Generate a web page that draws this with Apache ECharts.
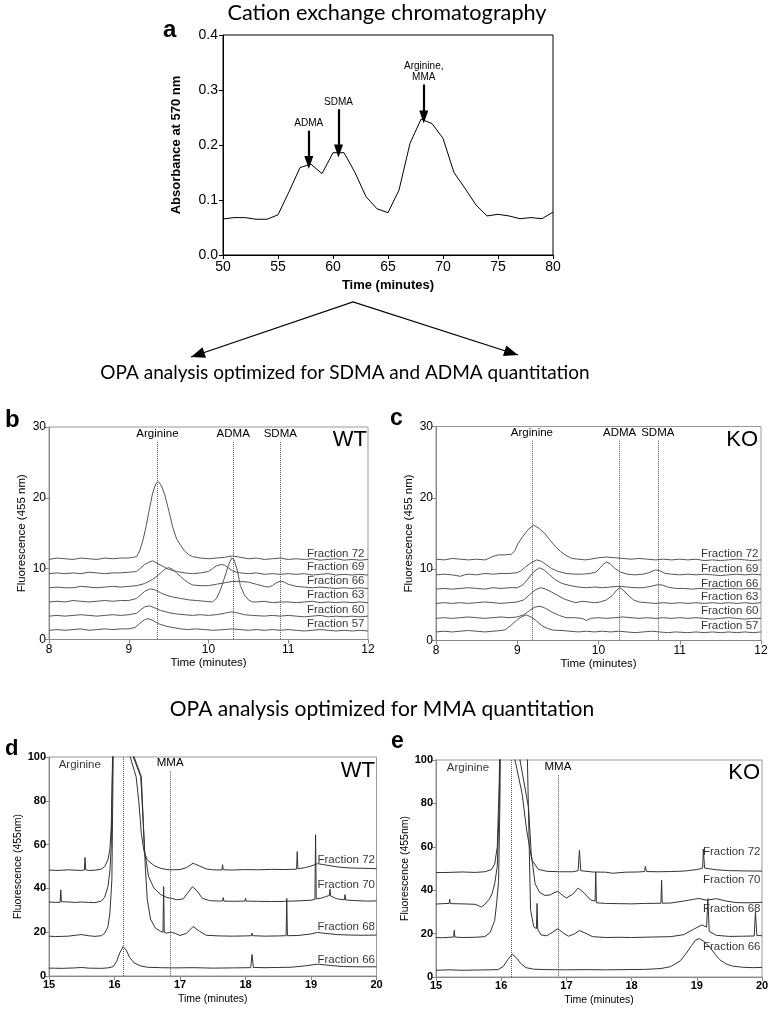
<!DOCTYPE html>
<html><head><meta charset="utf-8">
<script src="https://cdn.jsdelivr.net/npm/echarts@6/dist/echarts.min.js"></script>
<style>html,body{margin:0;padding:0;background:#fff}#chart{width:772px;height:1011px}</style>
</head><body><div id="chart"></div>
<script>
// ---------------- Panel a: cation exchange chromatography ----------------
const aTime = [50,51,52,53,54,55,56,57,58,59,60,61,62,63,64,65,66,67,68,69,70,71,72,73,74,75,76,77,78,79,80];
const aAbs  = [0.0655,0.068,0.068,0.065,0.065,0.073,0.115,0.159,0.165,0.148,0.186,0.186,0.15,0.106,0.084,0.077,0.118,0.203,0.247,0.239,0.212,0.15,0.121,0.091,0.071,0.074,0.071,0.066,0.068,0.066,0.078];
const aArrowNames = ['ADMA','SDMA','Arginine,\nMMA'];
const aArrowTime  = [57.8, 60.5, 68.25];
const aArrowFrom  = [0.226, 0.265, 0.31];
const aArrowTo    = [0.168, 0.189, 0.251];

// ---------------- Panel b: WT, SDMA/ADMA method ----------------
const bF72 = [[8.0,11.3],[8.1,11.5],[8.2,11.4],[8.3,11.3],[8.4,11.5],[8.5,11.4],[8.6,11.3],[8.7,11.5],[8.8,11.4],[8.9,11.5],[9.0,11.5],[9.05,11.6],[9.1,11.7],[9.14,12.6],[9.18,14.1],[9.22,16.1],[9.25,17.9],[9.3,20.7],[9.34,22.0],[9.37,22.3],[9.41,21.7],[9.45,20.5],[9.5,18.3],[9.55,15.9],[9.6,14.2],[9.65,13.3],[9.7,12.5],[9.75,12.0],[9.8,11.7],[9.9,11.5],[10.0,11.4],[10.1,11.5],[10.2,11.6],[10.3,11.8],[10.4,11.6],[10.5,11.4],[10.6,11.5],[10.7,11.3],[10.8,11.4],[10.9,11.5],[11.0,11.3],[11.1,11.4],[11.2,11.3],[11.3,11.4],[11.4,11.2],[11.5,11.3],[11.6,11.4],[11.7,11.2],[11.8,11.3],[11.9,11.2],[12.0,11.3]];
const bF69 = [[8.0,9.3],[8.1,9.4],[8.2,9.3],[8.3,9.4],[8.4,9.3],[8.5,9.5],[8.6,9.4],[8.7,9.3],[8.8,9.4],[8.9,9.4],[9.0,9.5],[9.1,9.6],[9.15,10.1],[9.2,10.6],[9.25,10.9],[9.3,11.1],[9.35,10.8],[9.4,10.5],[9.45,10.2],[9.5,9.9],[9.6,9.6],[9.7,9.4],[9.8,9.3],[9.9,9.4],[10.0,9.6],[10.05,10.0],[10.1,10.4],[10.16,10.6],[10.2,10.5],[10.25,10.1],[10.3,9.7],[10.35,9.5],[10.4,9.4],[10.5,9.3],[10.6,9.4],[10.7,9.2],[10.8,9.3],[10.9,9.2],[11.0,9.3],[11.1,9.2],[11.2,9.3],[11.3,9.1],[11.4,9.2],[11.5,9.3],[11.6,9.1],[11.7,9.2],[11.8,9.1],[11.9,9.2],[12.0,9.1]];
const bF66 = [[8.0,7.3],[8.1,7.4],[8.2,7.3],[8.3,7.3],[8.4,7.5],[8.5,7.4],[8.6,7.3],[8.7,7.4],[8.8,7.5],[8.9,7.4],[9.0,7.5],[9.1,7.6],[9.2,7.9],[9.3,8.5],[9.35,8.9],[9.4,9.4],[9.45,9.9],[9.5,10.15],[9.55,9.9],[9.6,9.4],[9.65,8.9],[9.7,8.4],[9.75,8.0],[9.8,7.7],[9.9,7.6],[10.0,7.6],[10.1,7.8],[10.2,8.0],[10.3,8.2],[10.4,8.2],[10.5,8.1],[10.6,7.8],[10.7,7.5],[10.75,7.4],[10.8,7.6],[10.85,8.0],[10.9,8.25],[10.95,8.1],[11.0,7.8],[11.1,7.5],[11.2,7.4],[11.3,7.3],[11.4,7.4],[11.5,7.3],[11.6,7.2],[11.7,7.3],[11.8,7.2],[11.9,7.3],[12.0,7.2]];
const bF63 = [[8.0,5.3],[8.1,5.4],[8.2,5.3],[8.3,5.5],[8.4,5.4],[8.5,5.3],[8.6,5.4],[8.7,5.5],[8.8,5.4],[8.9,5.5],[9.0,5.5],[9.1,5.8],[9.15,6.3],[9.2,6.8],[9.27,7.15],[9.33,7.0],[9.4,6.6],[9.47,6.25],[9.55,6.0],[9.65,5.8],[9.75,5.6],[9.85,5.5],[9.95,5.4],[10.05,5.3],[10.1,5.8],[10.15,7.0],[10.2,8.7],[10.25,10.5],[10.29,11.5],[10.32,11.3],[10.36,9.8],[10.4,7.6],[10.45,6.3],[10.5,5.6],[10.55,5.3],[10.6,5.3],[10.7,5.4],[10.8,5.2],[10.9,5.3],[11.0,5.3],[11.1,5.2],[11.2,5.3],[11.3,5.4],[11.4,5.2],[11.5,5.3],[11.6,5.2],[11.7,5.3],[11.8,5.2],[11.9,5.3],[12.0,5.2]];
const bF60 = [[8.0,3.3],[8.1,3.4],[8.2,3.3],[8.3,3.4],[8.4,3.5],[8.5,3.4],[8.6,3.3],[8.7,3.4],[8.8,3.5],[8.9,3.4],[9.0,3.5],[9.1,3.7],[9.15,4.2],[9.2,4.6],[9.26,4.75],[9.32,4.5],[9.4,4.1],[9.5,3.8],[9.6,3.6],[9.7,3.5],[9.8,3.4],[9.9,3.5],[10.0,3.4],[10.1,3.5],[10.2,3.7],[10.28,3.9],[10.35,3.8],[10.45,3.5],[10.55,3.4],[10.7,3.3],[10.8,3.4],[10.9,3.3],[11.0,3.4],[11.1,3.3],[11.2,3.2],[11.3,3.3],[11.4,3.4],[11.5,3.2],[11.6,3.3],[11.7,3.2],[11.8,3.3],[11.9,3.2],[12.0,3.3]];
const bF57 = [[8.0,1.3],[8.1,1.4],[8.2,1.3],[8.3,1.4],[8.4,1.5],[8.5,1.3],[8.6,1.4],[8.7,1.5],[8.8,1.4],[8.9,1.5],[9.0,1.5],[9.08,1.7],[9.14,2.3],[9.2,2.8],[9.24,2.95],[9.3,2.7],[9.38,2.2],[9.46,1.9],[9.55,1.7],[9.65,1.5],[9.75,1.4],[9.85,1.5],[9.95,1.4],[10.05,1.3],[10.2,1.4],[10.3,1.5],[10.4,1.4],[10.5,1.3],[10.6,1.4],[10.7,1.3],[10.8,1.4],[10.9,1.3],[11.0,1.4],[11.1,1.3],[11.2,1.2],[11.3,1.3],[11.4,1.4],[11.5,1.3],[11.6,1.2],[11.7,1.3],[11.8,1.2],[11.9,1.3],[12.0,1.2]];
const bcFractionNames = ['Fraction 72','Fraction 69','Fraction 66','Fraction 63','Fraction 60','Fraction 57'];
const bLabelY = [12.1,10.3,8.25,6.26,4.2,2.2];
const bPeakNames = ['Arginine','ADMA','SDMA'];
const bPeakTimes = [9.36,10.31,10.9];

// ---------------- Panel c: KO, SDMA/ADMA method ----------------
const cF72 = [[8.0,11.4],[8.1,11.3],[8.2,11.5],[8.3,11.4],[8.4,11.3],[8.5,11.4],[8.6,11.3],[8.65,11.5],[8.7,11.8],[8.77,12.0],[8.85,12.0],[8.93,12.1],[8.97,12.6],[9.01,13.6],[9.07,14.6],[9.13,15.5],[9.2,16.2],[9.27,15.7],[9.34,15.0],[9.4,14.1],[9.47,13.2],[9.53,12.5],[9.59,12.0],[9.67,11.5],[9.75,11.4],[9.84,11.3],[9.9,11.4],[10.0,11.6],[10.1,11.7],[10.2,11.6],[10.3,11.5],[10.4,11.4],[10.5,11.5],[10.6,11.4],[10.7,11.3],[10.8,11.4],[10.9,11.3],[11.0,11.4],[11.1,11.3],[11.2,11.4],[11.3,11.2],[11.4,11.3],[11.5,11.2],[11.6,11.3],[11.7,11.4],[11.8,11.3],[11.9,11.2],[12.0,11.3]];
const cF69 = [[8.0,9.2],[8.1,9.3],[8.2,9.2],[8.3,9.0],[8.35,9.2],[8.4,9.3],[8.5,9.2],[8.6,9.4],[8.7,9.3],[8.8,9.4],[8.9,9.4],[9.0,9.5],[9.05,9.8],[9.1,10.3],[9.17,10.9],[9.24,11.3],[9.3,11.1],[9.36,10.6],[9.42,10.1],[9.5,9.7],[9.6,9.4],[9.7,9.3],[9.8,9.3],[9.9,9.4],[9.97,9.6],[10.02,10.2],[10.06,10.7],[10.1,11.0],[10.15,10.7],[10.2,10.1],[10.27,9.6],[10.35,9.3],[10.45,9.2],[10.55,9.3],[10.62,9.5],[10.7,9.9],[10.75,9.8],[10.82,9.4],[10.9,9.3],[11.0,9.2],[11.1,9.3],[11.2,9.2],[11.3,9.3],[11.4,9.2],[11.5,9.1],[11.6,9.2],[11.7,9.3],[11.8,9.2],[11.9,9.3],[12.0,9.2]];
const cF66 = [[8.0,7.2],[8.1,7.3],[8.2,7.2],[8.3,7.3],[8.4,7.4],[8.5,7.3],[8.6,7.2],[8.7,7.4],[8.8,7.3],[8.9,7.4],[9.0,7.4],[9.07,7.8],[9.13,8.6],[9.2,9.6],[9.27,10.2],[9.33,9.9],[9.4,9.2],[9.47,8.5],[9.55,8.0],[9.65,7.7],[9.75,7.5],[9.85,7.4],[9.95,7.5],[10.05,7.4],[10.15,7.5],[10.25,7.6],[10.35,7.5],[10.45,7.4],[10.55,7.4],[10.65,7.6],[10.72,7.8],[10.78,7.8],[10.85,7.5],[10.95,7.3],[11.05,7.3],[11.15,7.2],[11.25,7.3],[11.35,7.2],[11.45,7.3],[11.55,7.2],[11.65,7.3],[11.75,7.2],[11.85,7.3],[12.0,7.2]];
const cF63 = [[8.0,5.2],[8.1,5.3],[8.2,5.2],[8.3,5.3],[8.4,5.2],[8.5,5.3],[8.6,5.4],[8.7,5.3],[8.8,5.2],[8.9,5.3],[9.0,5.4],[9.08,5.7],[9.15,6.4],[9.22,7.1],[9.29,7.4],[9.35,7.2],[9.42,6.8],[9.5,6.3],[9.58,5.8],[9.66,5.5],[9.72,5.3],[9.8,5.5],[9.88,5.4],[9.95,5.3],[10.02,5.4],[10.1,5.7],[10.17,6.3],[10.22,7.0],[10.26,7.4],[10.3,7.1],[10.36,6.4],[10.43,5.7],[10.5,5.4],[10.6,5.3],[10.7,5.2],[10.8,5.3],[10.9,5.2],[11.0,5.3],[11.1,5.2],[11.2,5.3],[11.3,5.2],[11.4,5.3],[11.5,5.2],[11.6,5.3],[11.7,5.2],[11.8,5.3],[11.9,5.2],[12.0,5.3]];
const cF60 = [[8.0,3.1],[8.1,3.2],[8.2,3.1],[8.3,3.2],[8.4,3.3],[8.5,3.2],[8.6,3.1],[8.7,3.2],[8.8,3.3],[8.9,3.2],[9.0,3.3],[9.08,3.6],[9.15,4.2],[9.22,4.7],[9.28,4.8],[9.35,4.5],[9.44,3.9],[9.52,3.5],[9.6,3.2],[9.7,3.2],[9.8,3.1],[9.85,2.8],[9.9,3.1],[10.0,3.2],[10.1,3.1],[10.2,3.2],[10.3,3.3],[10.4,3.2],[10.5,3.1],[10.6,3.2],[10.7,3.1],[10.8,3.2],[10.9,3.1],[11.0,3.2],[11.1,3.1],[11.2,3.2],[11.3,3.1],[11.4,3.0],[11.5,3.1],[11.6,3.2],[11.7,3.1],[11.8,3.0],[11.9,3.1],[12.0,3.1]];
const cF57 = [[8.0,1.2],[8.1,1.3],[8.2,1.2],[8.3,1.3],[8.4,1.4],[8.5,1.3],[8.6,1.2],[8.7,1.3],[8.8,1.4],[8.85,1.5],[8.92,2.1],[8.99,2.8],[9.05,3.3],[9.11,3.6],[9.17,3.3],[9.23,2.8],[9.3,2.1],[9.37,1.7],[9.44,1.45],[9.55,1.4],[9.65,1.3],[9.75,1.2],[9.85,1.3],[9.95,1.2],[10.05,1.3],[10.15,1.2],[10.25,1.3],[10.35,1.2],[10.45,1.1],[10.55,1.2],[10.65,1.3],[10.75,1.2],[10.85,1.1],[10.95,1.2],[11.1,1.1],[11.2,1.2],[11.3,1.1],[11.4,1.2],[11.5,1.1],[11.6,1.2],[11.7,1.1],[11.8,1.2],[11.9,1.1],[12.0,1.2]];
const cLabelY = [12.1,10.1,8.0,6.1,4.15,2.0];
const cPeakTimes = [9.18,10.26,10.73];

// ---------------- Panel d: WT, MMA method ----------------
const dF72 = [[15.0,48.4],[15.1,48.2],[15.2,48.3],[15.3,48.5],[15.4,48.3],[15.5,48.2],[15.54,48.4],[15.55,54.1],[15.56,48.6],[15.6,48.2],[15.7,48.3],[15.8,48.8],[15.85,50],[15.9,53],[15.93,58],[15.95,68],[15.97,95],[15.99,140],[16.1,170],[16.2,104],[16.33,91],[16.37,80],[16.41,65],[16.45,57],[16.5,53],[16.6,50.5],[16.7,49.2],[16.8,48.6],[16.9,48.5],[17.0,48.6],[17.1,49.5],[17.2,51.5],[17.3,50.2],[17.4,48.9],[17.5,48.5],[17.64,48.4],[17.65,50.8],[17.66,48.5],[17.8,48.4],[18.0,48.6],[18.2,48.5],[18.4,48.7],[18.6,48.6],[18.78,48.8],[18.79,56.8],[18.8,49],[18.9,49.4],[19.0,50.2],[19.1,51.3],[19.2,50.8],[19.4,49.8],[19.6,49.3],[19.8,49.2],[20.0,49.0]];
const dF70 = [[15.0,33.8],[15.1,33.6],[15.17,33.7],[15.18,39.3],[15.19,33.9],[15.3,33.8],[15.4,33.6],[15.5,33.8],[15.6,33.6],[15.7,33.5],[15.8,34.2],[15.85,36],[15.9,40.8],[15.93,48],[15.95,59],[15.97,100],[16.0,160],[16.1,180],[16.25,103],[16.4,91],[16.43,75],[16.46,57],[16.52,45.4],[16.6,40.3],[16.7,37.3],[16.8,35.8],[16.87,35.5],[16.95,34.8],[17.05,35.2],[17.12,38],[17.19,40.8],[17.26,38.8],[17.34,35.5],[17.45,34.4],[17.6,34.2],[17.65,34.3],[17.66,35.8],[17.67,34.2],[17.8,34.1],[17.99,34.2],[18.0,35.5],[18.01,34.2],[18.2,34.1],[18.4,34.0],[18.6,34.1],[18.8,34.3],[19.0,34.6],[19.06,35.0],[19.07,64.5],[19.08,35.2],[19.15,35.5],[19.22,36.2],[19.28,36.8],[19.29,39.6],[19.3,36.5],[19.4,35.2],[19.51,34.8],[19.52,37.2],[19.53,34.7],[19.7,34.4],[19.85,34.2],[20.0,34.3]];
const dF68 = [[15.0,18.2],[15.1,18.0],[15.2,18.1],[15.3,18.2],[15.4,18.6],[15.5,18.9],[15.6,18.4],[15.7,18.1],[15.8,18.4],[15.85,19.5],[15.9,22.5],[15.93,28.8],[15.96,44],[15.98,100],[16.0,160],[16.1,185],[16.25,104],[16.41,91],[16.44,70],[16.47,50],[16.5,35],[16.55,26],[16.62,22],[16.7,20.4],[16.74,20.0],[16.75,40.8],[16.76,19.9],[16.8,19.6],[16.86,20.1],[16.93,19.4],[17.0,18.5],[17.1,19.5],[17.2,22.6],[17.3,20.4],[17.4,18.6],[17.6,18.3],[17.8,18.2],[18.0,18.3],[18.09,18.4],[18.1,19.6],[18.11,18.4],[18.3,18.2],[18.5,18.3],[18.62,18.4],[18.63,35.4],[18.64,18.4],[18.8,18.5],[19.0,19.2],[19.1,19.9],[19.2,19.5],[19.4,18.9],[19.6,18.7],[19.8,18.6],[20.0,18.7]];
const dF66 = [[15.0,3.6],[15.2,3.5],[15.4,3.7],[15.5,3.9],[15.6,3.6],[15.8,3.5],[15.9,3.7],[15.98,4.3],[16.03,6.5],[16.08,10.5],[16.13,13.4],[16.18,11.8],[16.23,8.5],[16.3,6.0],[16.4,4.6],[16.5,4.0],[16.7,3.8],[16.9,3.7],[17.2,3.8],[17.5,3.6],[17.8,3.7],[18.08,3.8],[18.1,9.8],[18.12,3.9],[18.3,3.8],[18.5,3.9],[18.7,4.0],[18.9,4.6],[19.1,5.4],[19.3,4.8],[19.5,4.3],[19.7,4.2],[20.0,4.2]];
const deFractionNames = ['Fraction 72','Fraction 70','Fraction 68','Fraction 66'];
const dLabelY = [53, 41.6, 22.5, 7.3];
const dArgTime = 16.13, dMmaTime = 16.85;

// ---------------- Panel e: KO, MMA method ----------------
const eF72 = [[15.0,48.1],[15.2,48.2],[15.4,48.4],[15.6,48.2],[15.75,48.5],[15.85,49.5],[15.9,52],[15.94,60],[15.97,90],[16.0,150],[16.1,160],[16.19,103],[16.32,84.6],[16.39,67.7],[16.47,53.9],[16.57,49.6],[16.7,48.7],[16.9,48.5],[17.1,48.5],[17.18,49],[17.2,58.5],[17.22,49],[17.4,48.4],[17.6,48.3],[17.71,47.8],[17.72,46.9],[17.74,48.2],[17.9,48.3],[18.1,48.4],[18.2,48.6],[18.21,51],[18.23,48.6],[18.4,48.5],[18.6,48.6],[18.8,48.8],[19.0,49.5],[19.09,50.2],[19.1,59],[19.12,50.2],[19.3,49.4],[19.5,49],[19.7,48.9],[20.0,48.8]];
const eF70 = [[15.0,33.6],[15.1,33.8],[15.2,33.9],[15.21,35.8],[15.22,33.8],[15.4,33.7],[15.6,33.5],[15.7,32.3],[15.75,33.5],[15.82,36],[15.86,38.4],[15.9,43],[15.94,51],[15.97,80],[16.0,150],[16.1,170],[16.27,103],[16.42,78],[16.46,57],[16.52,43],[16.59,39],[16.67,37.6],[16.75,37.8],[16.81,38.8],[16.87,39.5],[16.94,37.6],[17.0,36.4],[17.1,38.2],[17.18,41],[17.27,38.8],[17.37,35.5],[17.44,35],[17.45,48.4],[17.46,34.2],[17.6,33.9],[17.8,33.8],[18.0,33.7],[18.2,33.9],[18.45,34.0],[18.46,44.6],[18.47,34.0],[18.6,34.1],[18.8,35.0],[18.95,35.8],[19.03,36.2],[19.15,35.4],[19.3,36.1],[19.45,35.0],[19.6,34.3],[19.8,34.2],[20.0,34.4]];
const eF68 = [[15.0,18.2],[15.1,18.1],[15.2,18.3],[15.27,18.4],[15.28,21.5],[15.29,18.4],[15.4,18.2],[15.6,18.3],[15.75,18.6],[15.83,20.5],[15.9,26],[15.93,34],[15.96,44],[15.98,80],[16.0,150],[16.2,190],[16.4,103],[16.45,31],[16.5,23.1],[16.54,22.3],[16.55,33.9],[16.56,22],[16.61,19.4],[16.7,19.0],[16.78,20.5],[16.87,22.3],[16.95,20.3],[17.03,18.8],[17.12,19.8],[17.2,21.4],[17.3,20.1],[17.4,18.6],[17.6,18.2],[17.8,18.3],[18.0,18.2],[18.3,18.4],[18.6,18.6],[18.8,19.5],[18.95,22],[19.08,24],[19.15,23],[19.16,22.8],[19.17,36.1],[19.19,21],[19.3,19.2],[19.5,18.7],[19.7,18.8],[19.88,18.9],[19.9,30],[19.92,19.2],[20.0,19.0]];
const eF66 = [[15.0,3.1],[15.2,3.3],[15.4,3.1],[15.6,3.2],[15.8,3.3],[15.95,3.4],[16.03,4.8],[16.1,8.0],[16.17,10.5],[16.24,8.6],[16.3,6.2],[16.38,4.3],[16.5,3.6],[16.7,3.4],[17.0,3.3],[17.3,3.4],[17.6,3.3],[17.9,3.4],[18.2,3.5],[18.45,3.9],[18.6,4.8],[18.75,7.5],[18.84,11],[18.92,14.5],[18.98,17],[19.04,17.7],[19.1,16.6],[19.2,13.8],[19.28,10.5],[19.35,8],[19.45,6],[19.55,5],[19.7,4.5],[19.85,4.3],[20.0,4.4]];
const eLabelY = [57.7, 44.6, 31.5, 13.8];
const eArgTime = 16.15, eMmaTime = 16.87;

// ---------------- Fonts ----------------
const FONT = '"Liberation Sans", Arial, sans-serif';
const TFONT = 'Lato, "Open Sans", sans-serif';
function hasFont(name){
  const c=document.createElement('canvas').getContext('2d');
  const s='Fraction 72 abcdefghijklm';
  c.font='20px monospace'; const w1=c.measureText(s).width;
  c.font='20px "'+name+'", monospace'; const w2=c.measureText(s).width;
  return Math.abs(w1-w2)>0.5;
}
const NARROW = hasFont('Liberation Sans Narrow');
const NFONT = NARROW ? '"Liberation Sans Narrow", "Liberation Sans", sans-serif' : FONT;
const LFS = NARROW ? 13.5 : 11.5;   // labels in b-e
const NFS1 = NARROW ? 13.5 : 11.5;  // axis names b,c
const NFS2 = NARROW ? 12 : 10.5;    // axis names d,e

// ---------------- Build chart ----------------
const chart = echarts.init(document.getElementById('chart'), null, {renderer:'canvas', width:772, height:1011});

const grids = [
  {left:223, top:35, width:330, height:220, show:true, borderColor:'#000', borderWidth:1, backgroundColor:'transparent'},
  {left:49, top:427, width:319, height:212.5, show:true, borderColor:'#999', borderWidth:1, backgroundColor:'transparent'},
  {left:436, top:426.5, width:325, height:214, show:true, borderColor:'#999', borderWidth:1, backgroundColor:'transparent'},
  {left:49, top:757, width:327.5, height:219, show:true, borderColor:'#999', borderWidth:1, backgroundColor:'transparent'},
  {left:436, top:760, width:326, height:217, show:true, borderColor:'#999', borderWidth:1, backgroundColor:'transparent'}
];

function axis(gi, min, max, interval, o) {
  return {
    type:'value', gridIndex:gi, min:min, max:max, interval:interval,
    splitLine:{show:false},
    axisLine:{show:true, onZero:false, lineStyle:{color:o.lineColor, width:1}},
    axisTick:{show:true, length:4, lineStyle:{color:o.lineColor}},
    axisLabel:{fontSize:o.fs, fontWeight:o.fw||'normal', color:'#000', fontFamily:FONT, margin:o.margin, formatter:o.fmt},
    name:o.name, nameLocation:'middle', nameGap:o.gap,
    nameTextStyle:{fontSize:o.nfs, fontWeight:o.nfw||'normal', color:'#000', fontFamily:o.nff||FONT}
  };
}

const xAxes = [
  axis(0, 50, 80, 5, {lineColor:'#000', fs:14, margin:5, name:'Time (minutes)', gap:24, nfs:13, nfw:'bold'}),
  axis(1, 8, 12, 1, {lineColor:'#888', fs:12, margin:4, name:'Time (minutes)', gap:16, nfs:NFS1, nff:NFONT}),
  axis(2, 8, 12, 1, {lineColor:'#888', fs:12, margin:4, name:'Time (minutes)', gap:15, nfs:NFS1, nff:NFONT}),
  axis(3, 15, 20, 1, {lineColor:'#888', fs:11, fw:'bold', margin:3, name:'Time (minutes)', gap:18, nfs:NFS2, nff:NFONT}),
  axis(4, 15, 20, 1, {lineColor:'#888', fs:11, fw:'bold', margin:3, name:'Time (minutes)', gap:18, nfs:NFS2, nff:NFONT})
];
const yAxes = [
  axis(0, 0, 0.4, 0.1, {lineColor:'#000', fs:14, margin:5, fmt:v=>v.toFixed(1), name:'Absorbance at 570 nm', gap:40, nfs:13, nfw:'bold'}),
  axis(1, 0, 30, 10, {lineColor:'#888', fs:12, margin:3, name:'Fluorescence (455 nm)', gap:21, nfs:NFS1, nff:NFONT}),
  axis(2, 0, 30, 10, {lineColor:'#888', fs:12, margin:3, name:'Fluorescence (455 nm)', gap:21, nfs:NFS1, nff:NFONT}),
  axis(3, 0, 100, 20, {lineColor:'#888', fs:11, fw:'bold', margin:3, name:'Fluorescence (455nm)', gap:25, nfs:NFS2, nff:NFONT}),
  axis(4, 0, 100, 20, {lineColor:'#888', fs:11, fw:'bold', margin:3, name:'Fluorescence (455nm)', gap:25, nfs:NFS2, nff:NFONT})
];

const series = [];
// panel a
series.push({
  type:'line', xAxisIndex:0, yAxisIndex:0, data:aTime.map((t,i)=>[t,aAbs[i]]),
  showSymbol:false, symbol:'none', lineStyle:{color:'#000', width:1}, silent:true,
  markLine:{silent:true, symbol:['none','triangle'], symbolSize:[9,13], animation:false,
    lineStyle:{type:'solid', color:'#000', width:2.2},
    label:{show:true, position:'start', formatter:'{b}', fontSize:10, color:'#000', fontFamily:FONT, distance:2, lineHeight:11},
    data: aArrowNames.map((n,i)=>[{name:n, coord:[aArrowTime[i], aArrowFrom[i]]},{coord:[aArrowTime[i], aArrowTo[i]]}])
  }
});

function traces(list, xi, color) {
  list.forEach(d => series.push({type:'line', xAxisIndex:xi, yAxisIndex:xi, data:d, showSymbol:false, symbol:'none', silent:true, lineStyle:{color:color, width:1}}));
}
function fracLabels(xi, xmax, names, ys, dist) {
  series.push({type:'scatter', xAxisIndex:xi, yAxisIndex:xi, symbolSize:1, itemStyle:{color:'rgba(0,0,0,0)'}, silent:true,
    data: names.map((n,i)=>[xmax, ys[i], n]),
    label:{show:true, position:'left', distance:dist, formatter:p=>p.data[2], fontSize:LFS, color:'#000', fontFamily:NFONT}});
}
function peakLines(xi, names, times, top, dist) {
  series.push({type:'line', xAxisIndex:xi, yAxisIndex:xi, data:[], silent:true,
    markLine:{silent:true, symbol:['none','none'], animation:false,
      lineStyle:{type:'dotted', color:'#555', width:1},
      label:{show:true, position:'start', formatter:'{b}', fontSize:LFS, color:'#000', fontFamily:NFONT, distance:dist},
      data: names.map((n,i)=>[{name:n, coord:[times[i], top[i]]},{coord:[times[i], 0]}])}});
}

traces([bF72,bF69,bF66,bF63,bF60,bF57], 1, '#555');
peakLines(1, bPeakNames, bPeakTimes, [27.9,27.9,27.9], 2);
fracLabels(1, 12, bcFractionNames, bLabelY, 3);

traces([cF72,cF69,cF66,cF63,cF60,cF57], 2, '#555');
peakLines(2, bPeakNames, cPeakTimes, [28.0,28.0,28.0], 2);
fracLabels(2, 12, bcFractionNames, cLabelY, 2);

traces([dF72,dF70,dF68,dF66], 3, '#333');
peakLines(3, ['', 'MMA'], [dArgTime, dMmaTime], [100, 93.5], 2);
fracLabels(3, 20, deFractionNames, dLabelY, 1);

traces([eF72,eF70,eF68,eF66], 4, '#333');
peakLines(4, ['', 'MMA'], [eArgTime, eMmaTime], [100, 93], 2);
fracLabels(4, 20, deFractionNames, eLabelY, 1);

// "Arginine" text labels in d and e
[[3, 15.47, 96.5],[4, 15.49, 96.2]].forEach(([xi,t,v]) => {
  series.push({type:'scatter', xAxisIndex:xi, yAxisIndex:xi, symbolSize:1, itemStyle:{color:'rgba(0,0,0,0)'}, silent:true,
    data:[[t,v]], label:{show:true, position:'inside', formatter:'Arginine', fontSize:LFS, color:'#000', fontFamily:NFONT}});
});

// ---------------- Graphic annotations ----------------
function txt(x, y, text, font, align, vAlign) {
  return {type:'text', silent:true, style:{x:x, y:y, text:text, font:font, fill:'#000', align:align||'left', verticalAlign:vAlign||'middle'}};
}
function arrowHead(x0,y0,x1,y1,len,half){
  const dx=x1-x0, dy=y1-y0, L=Math.hypot(dx,dy), ux=dx/L, uy=dy/L;
  const bx=x1-ux*len, by=y1-uy*len, px=-uy, py=ux;
  return {type:'polygon', silent:true, shape:{points:[[x1,y1],[bx+px*half,by+py*half],[bx-px*half,by-py*half]]}, style:{fill:'#000'}};
}
const apex=[353,302], tipL=[191,357], tipR=[518,355];
const graphics = [
  txt(387, 13, 'Cation exchange chromatography', '21.7px '+TFONT, 'center'),
  txt(345, 373, 'OPA analysis optimized for SDMA and ADMA quantitation', '19px '+TFONT, 'center'),
  txt(382, 709, 'OPA analysis optimized for MMA quantitation', '21px '+TFONT, 'center'),
  txt(163, 30, 'a', 'bold 24px '+FONT),
  txt(5, 420, 'b', 'bold 24px '+FONT),
  txt(390, 419, 'c', 'bold 23px '+FONT),
  txt(5, 749, 'd', 'bold 22px '+FONT),
  txt(391, 742, 'e', 'bold 23px '+FONT),
  txt(367, 440, 'WT', '22px '+FONT, 'right'),
  txt(758, 440, 'KO', '22px '+FONT, 'right'),
  txt(375, 771, 'WT', '22px '+FONT, 'right'),
  txt(760, 773, 'KO', '22px '+FONT, 'right'),
  {type:'polyline', silent:true, shape:{points:[tipL, apex, tipR]}, style:{stroke:'#000', lineWidth:1.3, fill:null}},
  arrowHead(apex[0],apex[1],tipL[0],tipL[1],14,5.5),
  arrowHead(apex[0],apex[1],tipR[0],tipR[1],14,5.5)
];

chart.setOption({
  animation:false,
  textStyle:{fontFamily:FONT},
  grid:grids, xAxis:xAxes, yAxis:yAxes, series:series, graphic:graphics
});
</script></body></html>
